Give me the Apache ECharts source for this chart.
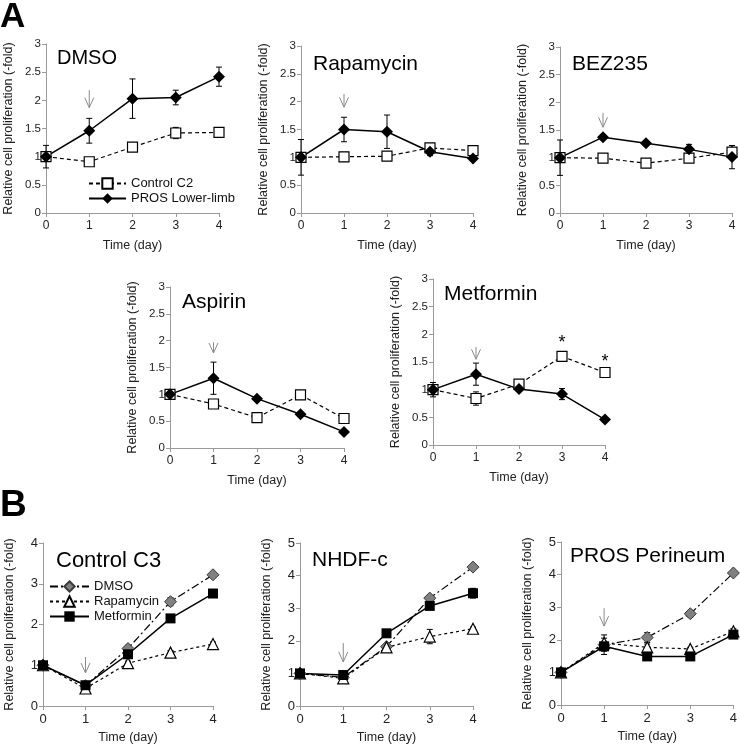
<!DOCTYPE html>
<html>
<head>
<meta charset="utf-8">
<script src="https://cdn.jsdelivr.net/npm/echarts@6/dist/echarts.min.js"></script>
<style>
  html, body { margin: 0; padding: 0; background: #fff; }
  #chart { width: 740px; height: 746px; }
</style>
</head>
<body>
<div id="chart"></div>
<script>
const FONT = '"Liberation Sans", Arial, sans-serif';
const days = [0, 1, 2, 3, 4];

// Panel A: Control C2 vs PROS Lower-limb, fold change and error
const dmsoCtrl = [1.00, 0.91, 1.17, 1.42, 1.43];
const dmsoCtrlErr = [0.03, 0.04, 0.03, 0.10, 0.06];
const dmsoPros = [1.00, 1.46, 2.03, 2.05, 2.42];
const dmsoProsErr = [0.20, 0.22, 0.35, 0.13, 0.17];

const rapaCtrl = [1.00, 1.01, 1.02, 1.17, 1.12];
const rapaCtrlErr = [0.03, 0.08, 0.03, 0.08, 0.04];
const rapaPros = [1.00, 1.50, 1.46, 1.10, 0.98];
const rapaProsErr = [0.32, 0.22, 0.30, 0.07, 0.03];

const bezCtrl = [1.00, 0.99, 0.90, 0.99, 1.10];
const bezCtrlErr = [0.03, 0.03, 0.03, 0.04, 0.12];
const bezPros = [1.00, 1.37, 1.26, 1.15, 1.01];
const bezProsErr = [0.32, 0.04, 0.04, 0.09, 0.21];

const aspCtrl = [1.00, 0.82, 0.565, 0.99, 0.55];
const aspCtrlErr = [0.08, 0.08, 0.03, 0.07, 0.03];
const aspPros = [1.00, 1.30, 0.92, 0.63, 0.30];
const aspProsErr = [0.05, 0.30, 0.03, 0.03, 0.02];

const metCtrl = [1.00, 0.84, 1.10, 1.60, 1.31];
const metCtrlErr = [0.13, 0.12, 0.05, 0.04, 0.03];
const metPros = [1.00, 1.28, 1.01, 0.92, 0.46];
const metProsErr = [0.05, 0.20, 0.03, 0.10, 0.02];

// Panel B: DMSO / Rapamycin / Metformin per cell line
const c3Dmso = [1.00, 0.50, 1.41, 2.56, 3.22];
const c3DmsoErr = [0.05, 0.05, 0.08, 0.10, 0.05];
const c3Rapa = [1.00, 0.43, 1.05, 1.31, 1.52];
const c3RapaErr = [0.05, 0.05, 0.05, 0.05, 0.05];
const c3Met = [1.00, 0.51, 1.27, 2.15, 2.76];
const c3MetErr = [0.05, 0.05, 0.05, 0.05, 0.05];

const nhDmso = [1.00, 0.88, 1.82, 3.31, 4.26];
const nhDmsoErr = [0.05, 0.05, 0.05, 0.05, 0.05];
const nhRapa = [1.00, 0.85, 1.80, 2.13, 2.37];
const nhRapaErr = [0.05, 0.05, 0.08, 0.22, 0.05];
const nhMet = [1.00, 0.95, 2.23, 3.07, 3.46];
const nhMetErr = [0.05, 0.10, 0.05, 0.05, 0.15];

const ppDmso = [1.00, 1.85, 2.07, 2.80, 4.05];
const ppDmsoErr = [0.05, 0.10, 0.15, 0.10, 0.05];
const ppRapa = [1.00, 1.90, 1.77, 1.72, 2.26];
const ppRapaErr = [0.05, 0.25, 0.10, 0.05, 0.08];
const ppMet = [1.00, 1.80, 1.49, 1.49, 2.16];
const ppMetErr = [0.05, 0.25, 0.05, 0.05, 0.08];

// treatment arrows at day 1: [day, from, to]
const arrowsA = [[1, 2.18, 1.87], [1, 2.14, 1.90], [1, 1.81, 1.55], [1, 1.97, 1.77], [1, 1.77, 1.55]];
const arrowsB = [[1, 1.20, 0.81], [1, 1.93, 1.35], [1, 2.97, 2.42]];
const metStars = [[3, 1.84], [4, 1.50]];

const styles = {
  ctrl: { symbol: 'rect', symbolSize: 10, itemStyle: { color: '#fff', borderColor: '#000', borderWidth: 1.2 }, lineStyle: { color: '#000', width: 1.2, type: [4, 3] } },
  pros: { symbol: 'diamond', symbolSize: 12, itemStyle: { color: '#000' }, lineStyle: { color: '#000', width: 1.5, type: 'solid' } },
  dmso: { symbol: 'diamond', symbolSize: 12, itemStyle: { color: '#808080', borderColor: '#3a3a3a', borderWidth: 1 }, lineStyle: { color: '#000', width: 1.2, type: [8, 3, 2, 3] } },
  rapa: { symbol: 'triangle', symbolSize: 11, itemStyle: { color: '#fff', borderColor: '#000', borderWidth: 1.2 }, lineStyle: { color: '#000', width: 1.2, type: [3, 3] } },
  met: { symbol: 'rect', symbolSize: 10, itemStyle: { color: '#000' }, lineStyle: { color: '#000', width: 1.5, type: 'solid' } }
};

const grids = [], xAxes = [], yAxes = [], series = [], titles = [];

function errorBarItem(params, api) {
  const x = api.value(0), y = api.value(1), e = api.value(2);
  const hi = api.coord([x, y + e]);
  const lo = api.coord([x, y - e]);
  const w = 3;
  const style = { stroke: '#000', lineWidth: 1 };
  return { type: 'group', children: [
    { type: 'line', shape: { x1: hi[0], y1: hi[1], x2: lo[0], y2: lo[1] }, style },
    { type: 'line', shape: { x1: hi[0] - w, y1: hi[1], x2: hi[0] + w, y2: hi[1] }, style },
    { type: 'line', shape: { x1: lo[0] - w, y1: lo[1], x2: lo[0] + w, y2: lo[1] }, style }
  ] };
}

function arrowItem(params, api) {
  const a = api.coord([api.value(0), api.value(1)]);
  const b = api.coord([api.value(0), api.value(2)]);
  const style = { stroke: '#8a8a8a', lineWidth: 1, fill: null };
  return { type: 'group', children: [
    { type: 'line', shape: { x1: a[0], y1: a[1], x2: b[0], y2: b[1] }, style },
    { type: 'polyline', shape: { points: [[b[0] - 4.5, b[1] - 10], [b[0], b[1]], [b[0] + 4.5, b[1] - 10]] }, style }
  ] };
}

function starItem(params, api) {
  const p = api.coord([api.value(0), api.value(1)]);
  return { type: 'text', x: p[0], y: p[1], style: { text: '*', fill: '#000', font: '18px ' + FONT, align: 'center', verticalAlign: 'middle' } };
}

function addPanel(p) {
  const i = grids.length;
  grids.push({ left: p.left, top: p.top, width: p.width, height: p.height });
  const lineStyle = { color: '#9a9a9a', width: 1 };
  const axisTick = { show: true, length: 4, lineStyle: { color: '#9a9a9a' } };
  xAxes.push({
    gridIndex: i, type: 'value', min: 0, max: 4, interval: 1,
    name: 'Time (day)', nameLocation: 'middle', nameGap: p.xGap,
    nameTextStyle: { fontSize: p.nameSize, color: '#222', fontFamily: FONT },
    axisLine: { lineStyle }, axisTick, splitLine: { show: false },
    axisLabel: { fontSize: p.labelSize, color: '#222', fontFamily: FONT, margin: 7 }
  });
  yAxes.push({
    gridIndex: i, type: 'value', min: 0, max: p.yMax, interval: p.yStep,
    name: 'Relative cell proliferation (-fold)', nameLocation: 'middle', nameGap: p.yGap,
    nameTextStyle: { fontSize: p.nameSize, color: '#222', fontFamily: FONT },
    axisLine: { show: true, lineStyle }, axisTick, splitLine: { show: false },
    axisLabel: { fontSize: p.yLabelSize || p.labelSize, color: '#222', fontFamily: FONT, margin: 5 }
  });
  titles.push({ text: p.title, left: p.tx, top: p.ty + 3, padding: 0,
    textStyle: { fontSize: p.titleSize || 20, fontWeight: 'normal', color: '#000', fontFamily: FONT } });
  p.lines.forEach(l => {
    series.push({
      type: 'custom', xAxisIndex: i, yAxisIndex: i, z: 1, silent: true,
      renderItem: errorBarItem,
      data: days.map((d, k) => [d, l.values[k], l.errors[k]])
    });
  });
  p.lines.forEach(l => {
    series.push(Object.assign({
      type: 'line', name: l.name, xAxisIndex: i, yAxisIndex: i, z: 2,
      showSymbol: true, animation: false,
      data: days.map((d, k) => [d, l.values[k]])
    }, styles[l.style]));
  });
  series.push({
    type: 'custom', xAxisIndex: i, yAxisIndex: i, z: 3, silent: true,
    renderItem: arrowItem, data: [p.arrow]
  });
  if (p.stars) {
    series.push({ type: 'custom', xAxisIndex: i, yAxisIndex: i, z: 3, silent: true, renderItem: starItem, data: p.stars });
  }
}

const aCommon = { yMax: 3, yStep: 0.5, xGap: 26, yGap: 31, nameSize: 12.5, labelSize: 12, yLabelSize: 11.5 };
const bCommon = { yStep: 1, xGap: 25, yGap: 27, nameSize: 12.5, labelSize: 13 };

addPanel(Object.assign({}, aCommon, { left: 46, top: 44, width: 173, height: 169, title: 'DMSO', tx: 57, ty: 45, arrow: arrowsA[0],
  lines: [{ name: 'Control C2', style: 'ctrl', values: dmsoCtrl, errors: dmsoCtrlErr }, { name: 'PROS Lower-limb', style: 'pros', values: dmsoPros, errors: dmsoProsErr }] }));
addPanel(Object.assign({}, aCommon, { left: 301, top: 46, width: 172, height: 167, title: 'Rapamycin', tx: 313, ty: 51, titleSize: 21, arrow: arrowsA[1],
  lines: [{ name: 'Control C2', style: 'ctrl', values: rapaCtrl, errors: rapaCtrlErr }, { name: 'PROS Lower-limb', style: 'pros', values: rapaPros, errors: rapaProsErr }] }));
addPanel(Object.assign({}, aCommon, { left: 560, top: 47, width: 172, height: 166, title: 'BEZ235', tx: 572, ty: 51, titleSize: 21, arrow: arrowsA[2],
  lines: [{ name: 'Control C2', style: 'ctrl', values: bezCtrl, errors: bezCtrlErr }, { name: 'PROS Lower-limb', style: 'pros', values: bezPros, errors: bezProsErr }] }));
addPanel(Object.assign({}, aCommon, { left: 170, top: 287, width: 174, height: 161, title: 'Aspirin', tx: 182, ty: 289, titleSize: 21, arrow: arrowsA[3],
  lines: [{ name: 'Control C2', style: 'ctrl', values: aspCtrl, errors: aspCtrlErr }, { name: 'PROS Lower-limb', style: 'pros', values: aspPros, errors: aspProsErr }] }));
addPanel(Object.assign({}, aCommon, { left: 433, top: 279, width: 172, height: 166, title: 'Metformin', tx: 444, ty: 281, titleSize: 21, arrow: arrowsA[4], stars: metStars,
  lines: [{ name: 'Control C2', style: 'ctrl', values: metCtrl, errors: metCtrlErr }, { name: 'PROS Lower-limb', style: 'pros', values: metPros, errors: metProsErr }] }));

addPanel(Object.assign({}, bCommon, { yMax: 4, left: 43, top: 543, width: 170, height: 163, title: 'Control C3', tx: 56, ty: 547, titleSize: 22, arrow: arrowsB[0],
  lines: [{ name: 'DMSO', style: 'dmso', values: c3Dmso, errors: c3DmsoErr }, { name: 'Rapamycin', style: 'rapa', values: c3Rapa, errors: c3RapaErr }, { name: 'Metformin', style: 'met', values: c3Met, errors: c3MetErr }] }));
addPanel(Object.assign({}, bCommon, { yMax: 5, left: 300, top: 543, width: 173, height: 163, title: 'NHDF-c', tx: 312, ty: 547, titleSize: 21, arrow: arrowsB[1],
  lines: [{ name: 'DMSO', style: 'dmso', values: nhDmso, errors: nhDmsoErr }, { name: 'Rapamycin', style: 'rapa', values: nhRapa, errors: nhRapaErr }, { name: 'Metformin', style: 'met', values: nhMet, errors: nhMetErr }] }));
addPanel(Object.assign({}, bCommon, { yMax: 5, left: 561, top: 542, width: 174, height: 163, title: 'PROS Perineum', tx: 570, ty: 543, titleSize: 21, arrow: arrowsB[2],
  lines: [{ name: 'DMSO', style: 'dmso', values: ppDmso, errors: ppDmsoErr }, { name: 'Rapamycin', style: 'rapa', values: ppRapa, errors: ppRapaErr }, { name: 'Metformin', style: 'met', values: ppMet, errors: ppMetErr }] }));

titles.push({ text: 'A', left: 0, top: 0, padding: 0, textStyle: { fontSize: 35, fontWeight: 'bold', color: '#000', fontFamily: FONT } });
titles.push({ text: 'B', left: 0, top: 487, padding: 0, textStyle: { fontSize: 37, fontWeight: 'bold', color: '#000', fontFamily: FONT } });

const chart = echarts.init(document.getElementById('chart'), null, { renderer: 'canvas' });
chart.setOption({
  backgroundColor: '#fff',
  animation: false,
  title: titles,
  legend: [
    { data: ['Control C2', 'PROS Lower-limb'], left: 88, top: 177, orient: 'vertical', padding: 0,
      itemWidth: 37, itemHeight: 13, itemGap: 2,
      textStyle: { fontSize: 13, color: '#111', fontFamily: FONT }, selectedMode: false },
    { data: ['DMSO', 'Rapamycin', 'Metformin'], left: 49, top: 580, orient: 'vertical', padding: 0,
      itemWidth: 39, itemHeight: 13, itemGap: 2,
      textStyle: { fontSize: 13, color: '#111', fontFamily: FONT }, selectedMode: false }
  ],
  grid: grids,
  xAxis: xAxes,
  yAxis: yAxes,
  series: series
});
</script>
</body>
</html>
